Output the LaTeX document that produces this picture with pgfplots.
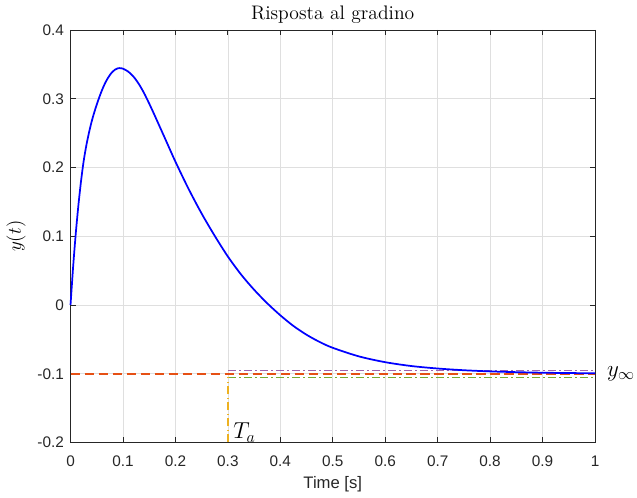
\documentclass[border=0pt]{standalone}
\usepackage{fontspec}
\usepackage{pgfplots}
\pgfplotsset{compat=1.18}
\newfontfamily\hel{Liberation Sans}
\definecolor{mpurple}{rgb}{0.494,0.184,0.556}
\definecolor{mgreen}{rgb}{0.466,0.674,0.188}
\definecolor{myellow}{rgb}{0.929,0.694,0.125}
\definecolor{maxis}{rgb}{0.15,0.15,0.15}
\definecolor{mgrid}{rgb}{0.875,0.875,0.875}
\begin{document}
\begin{tikzpicture}
\begin{axis}[
  set layers=standard,
  scale only axis, width=393.4pt, height=309.4pt,
  xmin=0, xmax=1, ymin=-0.2, ymax=0.4,
  xtick={0,0.1,0.2,0.3,0.4,0.5,0.6,0.7,0.8,0.9,1},
  xticklabels={0,0.1,0.2,0.3,0.4,0.5,0.6,0.7,0.8,0.9,1},
  ytick={-0.2,-0.1,0,0.1,0.2,0.3,0.4},
  yticklabels={-0.2,-0.1,0,0.1,0.2,0.3,0.4},
  tick label style={font=\hel\fontsize{11.5}{13}\selectfont, text=black!85},
  xticklabel style={yshift=-6.5pt},
  yticklabel style={xshift=-1.5pt},
  grid=major, major grid style={color=mgrid, line width=0.5pt},
  axis line style={color=maxis, line width=0.6pt},
  tick style={color=maxis, line width=0.6pt},
  tick align=inside, tick pos=both, major tick length=3.8pt,
  clip=false,
  title={Risposta al gradino},
  every axis title/.style={at={(axis description cs:0.5,1)}, anchor=base, yshift=7.5pt, font=\fontsize{14.7}{17}\selectfont},
  xlabel={Time [s]},
  every axis x label/.style={at={(axis description cs:0.5,0)}, anchor=base, yshift=-34.5pt, font=\hel\fontsize{12.5}{14}\selectfont, text=black!85},
  ylabel={$y(t)$},
  every axis y label/.style={at={(axis description cs:-0.104,0.5)}, rotate=90, anchor=center, font=\fontsize{14.4}{17}\selectfont},
]
\addplot[color={rgb,255:red,230;green,80;blue,20}, line width=1.2pt, dash pattern=on 7pt off 3.5pt] coordinates {(0,-0.1) (1,-0.1)};
\addplot[color=mpurple!75, line width=1.0pt, dash pattern=on 6pt off 2.5pt on 1pt off 2.5pt] coordinates {(0.3,-0.095) (1,-0.095)};
\addplot[color=mgreen, line width=1.0pt, dash pattern=on 6pt off 2.5pt on 1pt off 2.5pt] coordinates {(0.3,-0.105) (1,-0.105)};
\addplot[color=myellow, line width=1.0pt, dash pattern=on 6pt off 2.5pt on 1pt off 2.5pt] coordinates {(0.3,-0.2) (0.3,-0.105)};
\addplot[color=blue, line width=1.3pt, smooth] coordinates {
(0,0) (0.005,0.056) (0.010,0.104) (0.015,0.145) (0.020,0.180) (0.025,0.209)
(0.030,0.2315) (0.035,0.250) (0.040,0.266) (0.045,0.2795) (0.050,0.2915)
(0.055,0.3025) (0.060,0.3125) (0.065,0.3212) (0.070,0.3285) (0.075,0.3345)
(0.080,0.3392) (0.085,0.3424) (0.090,0.3442) (0.0935,0.3446) (0.100,0.3437)
(0.110,0.3395) (0.120,0.3322) (0.130,0.3218) (0.140,0.3085) (0.150,0.2930)
(0.160,0.2765) (0.180,0.2425) (0.200,0.2085) (0.225,0.1690) (0.250,0.1330)
(0.275,0.1005) (0.300,0.0705) (0.325,0.0445) (0.350,0.0222) (0.375,0.0025)
(0.400,-0.0150) (0.425,-0.0305) (0.450,-0.0433) (0.475,-0.0538) (0.500,-0.0623)
(0.550,-0.0748) (0.600,-0.0832) (0.650,-0.0888) (0.700,-0.0924) (0.750,-0.0949)
(0.800,-0.0966) (0.850,-0.0977) (0.900,-0.0985) (0.950,-0.0990) (1.000,-0.0993)
};
\node[anchor=south west, inner sep=0pt, xshift=4pt, font=\fontsize{17}{20}\selectfont] at (axis cs:0.3,-0.2) {$T_a$};
\node[anchor=west, inner sep=0pt, xshift=8.8pt, font=\fontsize{17}{20}\selectfont] at (axis cs:1,-0.1) {$y_\infty$};
\end{axis}
\pgfresetboundingbox
\path (-52.9pt,-41.6pt) rectangle (424.9pt,331.9pt);
\end{tikzpicture}
\end{document}
